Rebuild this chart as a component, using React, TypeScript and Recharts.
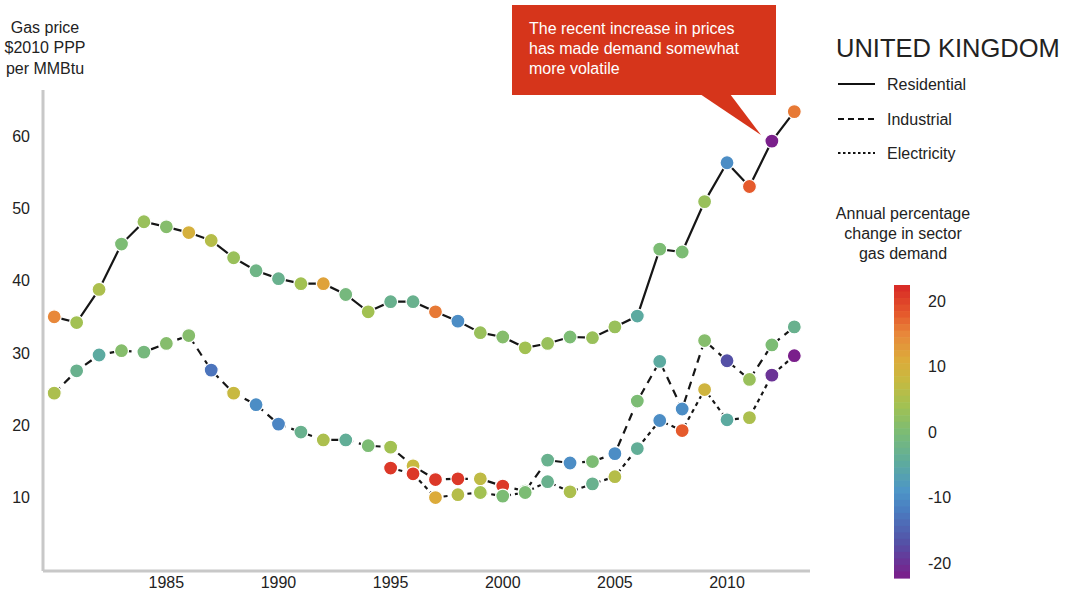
import React from 'react';
import { LineChart, Line, XAxis, YAxis } from 'recharts';

const years = [
  1980, 1981, 1982, 1983, 1984, 1985, 1986, 1987, 1988, 1989, 1990, 1991,
  1992, 1993, 1994, 1995, 1996, 1997, 1998, 1999, 2000, 2001, 2002, 2003,
  2004, 2005, 2006, 2007, 2008, 2009, 2010, 2011, 2012, 2013,
];

// gas price, $2010 PPP per MMBtu
const residential = [
  35.0, 34.2, 38.8, 45.1, 48.2, 47.5, 46.7, 45.6, 43.2, 41.4, 40.3, 39.6,
  39.6, 38.1, 35.7, 37.1, 37.1, 35.7, 34.4, 32.8, 32.2, 30.7, 31.3, 32.2,
  32.1, 33.6, 35.1, 44.4, 44.0, 51.0, 56.4, 53.1, 59.4, 63.5,
];
const industrial = [
  24.4, 27.5, 29.7, 30.3, 30.1, 31.3, 32.4, 27.6, 24.4, 22.8, 20.1, 19.0,
  17.9, 17.9, 17.1, 16.9, 14.3, 12.4, 12.5, 12.5, 11.5, 10.8, 15.1, 14.7,
  14.9, 16.0, 23.3, 28.8, 22.2, 31.7, 28.9, 26.3, 31.1, 33.6,
];
const electricity = [
  null, null, null, null, null, null, null, null, null, null, null, null,
  null, null, null, 14.0, 13.2, 9.9, 10.3, 10.6, 10.1, 10.6, 12.1, 10.7,
  11.8, 12.8, 16.7, 20.6, 19.2, 24.9, 20.7, 21.0, 26.9, 29.6,
];

// annual % change in sector gas demand (dot colour)
const residentialChange = [
  15, 4, 5, 0, 3, 1, 10, 6, 3, -2, -3, 4,
  12, -1, 4, -3, -3, 16, -10, 3, 1, 4, 3, 0,
  3, 3, -5, 0, 0, 3, -10, 18, -22, 16,
];
const industrialChange = [
  5, -3, -5, 1, -1, 1, 1, -13, 8, -10, -11, -3,
  5, -4, 0, 4, 8, 21, 21, 7, 21, 0, -3, -10,
  0, -10, 0, -5, -10, 1, -17, 3, 0, -3,
];
const electricityChange = [
  null, null, null, null, null, null, null, null, null, null, null, null,
  null, null, null, 21, 21, 11, 6, 4, 0, 0, -3, 5,
  -3, 6, -4, -10, 18, 9, -5, 5, -20, -22,
];

const yTicks = [10, 20, 30, 40, 50, 60];
const xTicks = [1985, 1990, 1995, 2000, 2005, 2010];
const scaleTicks = [20, 10, 0, -10, -20];

const colorStops: [number, string][] = [
  [-22, '#7a1f8b'],
  [-17, '#5450a6'],
  [-12, '#4a7dc1'],
  [-9, '#4d95c7'],
  [-5, '#5caaa0'],
  [0, '#7cbc74'],
  [4, '#a2c152'],
  [8, '#c8b940'],
  [11, '#dcab3a'],
  [15, '#e8883a'],
  [18, '#e55a2c'],
  [22, '#d92d27'],
];

function hex(c: string) {
  return [1, 3, 5].map((i) => parseInt(c.slice(i, i + 2), 16));
}

function demandColor(v: number) {
  if (v <= colorStops[0][0]) return colorStops[0][1];
  const last = colorStops[colorStops.length - 1];
  if (v >= last[0]) return last[1];
  for (let i = 1; i < colorStops.length; i++) {
    const [v1, c1] = colorStops[i];
    const [v0, c0] = colorStops[i - 1];
    if (v <= v1) {
      const t = (v - v0) / (v1 - v0);
      const a = hex(c0);
      const b = hex(c1);
      const m = a.map((x, k) => Math.round(x + (b[k] - x) * t));
      return `rgb(${m[0]},${m[1]},${m[2]})`;
    }
  }
  return last[1];
}

const data = years.map((year, i) => ({
  year,
  residential: residential[i],
  industrial: industrial[i],
  electricity: electricity[i],
  residentialChange: residentialChange[i],
  industrialChange: industrialChange[i],
  electricityChange: electricityChange[i],
}));

const makeDot = (changeKey: string) => (props: any) => {
  const { cx, cy, payload, index } = props;
  const k = `${changeKey}-${index}`;
  if (cy == null || payload[changeKey] == null) return <g key={k} />;
  return (
    <circle
      key={k}
      cx={cx}
      cy={cy}
      r={7}
      fill={demandColor(payload[changeKey])}
      stroke="#fff"
      strokeWidth={1.2}
    />
  );
};

const ink = '#222';
const font = '"Liberation Sans", Arial, sans-serif';

// colour bar geometry
const barTop = 285;
const barBottom = 578;
const barMax = 22.5;
const barMin = -22.3;
const barY = (v: number) =>
  barTop + ((barMax - v) / (barMax - barMin)) * (barBottom - barTop);

function ColourBar() {
  const bands = [];
  const n = 45;
  for (let i = 0; i < n; i++) {
    const v0 = barMax - ((barMax - barMin) * i) / n;
    const v1 = barMax - ((barMax - barMin) * (i + 1)) / n;
    bands.push(
      <rect
        key={i}
        x={894}
        y={barY(v0)}
        width={16}
        height={barY(v1) - barY(v0) + 0.6}
        fill={demandColor((v0 + v1) / 2)}
      />
    );
  }
  return (
    <g>
      {bands}
      {scaleTicks.map((t) => (
        <text key={t} x={928} y={barY(t)} dy="0.35em" fontSize={16} fill={ink}>
          {t}
        </text>
      ))}
    </g>
  );
}

function Overlay() {
  return (
    <svg
      width={1072}
      height={598}
      style={{ position: 'absolute', left: 0, top: 0, fontFamily: font }}
    >
      <g fill={ink} fontSize={16} textAnchor="middle">
        <text x={45} y={27} dy="0.35em">Gas price</text>
        <text x={45} y={47} dy="0.35em">$2010 PPP</text>
        <text x={45} y={68} dy="0.35em">per MMBtu</text>
      </g>

      <rect x={512} y={5} width={264} height={90} fill="#d6351b" />
      <polygon points="700,94 730,94 761,135" fill="#d6351b" />
      <g fill="#fff" fontSize={16}>
        <text x={529} y={28} dy="0.35em">The recent increase in prices</text>
        <text x={529} y={48} dy="0.35em">has made demand somewhat</text>
        <text x={529} y={68} dy="0.35em">more volatile</text>
      </g>

      <text x={836} y={48} dy="0.35em" fontSize={25.5} fill={ink}>
        UNITED KINGDOM
      </text>
      <g stroke="#111" strokeWidth={2}>
        <line x1={838} x2={875} y1={84} y2={84} />
        <line x1={838} x2={875} y1={119} y2={119} strokeDasharray="6 4" />
        <line x1={838} x2={875} y1={153} y2={153} strokeDasharray="2.5 2.5" />
      </g>
      <g fill={ink} fontSize={16}>
        <text x={887} y={84} dy="0.35em">Residential</text>
        <text x={887} y={119} dy="0.35em">Industrial</text>
        <text x={887} y={153} dy="0.35em">Electricity</text>
      </g>

      <g fill={ink} fontSize={16} textAnchor="middle">
        <text x={903} y={213} dy="0.35em">Annual percentage</text>
        <text x={903} y={233} dy="0.35em">change in sector</text>
        <text x={903} y={253} dy="0.35em">gas demand</text>
      </g>
      <ColourBar />
    </svg>
  );
}

export default function App() {
  return (
    <div
      style={{
        position: 'absolute',
        left: 0,
        top: 0,
        width: 1072,
        height: 598,
        background: '#fff',
        fontFamily: font,
      }}
    >
      <LineChart
        width={830}
        height={598}
        data={data}
        margin={{ top: 90, right: 20, left: 0, bottom: 0 }}
      >
        <XAxis
          dataKey="year"
          type="number"
          domain={[1979.5, 2013.7]}
          ticks={xTicks}
          height={27}
          stroke="#c8c8c8"
          axisLine={{ stroke: '#c8c8c8', strokeWidth: 3 }}
          tickLine={false}
          tickSize={0}
          tickMargin={6}
          tick={{ fontSize: 16, fill: ink }}
          allowDataOverflow
        />
        <YAxis
          type="number"
          domain={[-0.3, 66.5]}
          ticks={yTicks}
          width={43}
          axisLine={{ stroke: '#c8c8c8', strokeWidth: 3 }}
          tickLine={false}
          tickSize={0}
          tickMargin={13}
          tick={{ fontSize: 16, fill: ink }}
          allowDataOverflow
        />
        <Line
          dataKey="residential"
          stroke="#161616"
          strokeWidth={2.2}
          dot={makeDot('residentialChange')}
          activeDot={false}
          isAnimationActive={false}
        />
        <Line
          dataKey="industrial"
          stroke="#161616"
          strokeWidth={2.2}
          strokeDasharray="8 6"
          dot={makeDot('industrialChange')}
          activeDot={false}
          isAnimationActive={false}
        />
        <Line
          dataKey="electricity"
          stroke="#161616"
          strokeWidth={2.2}
          strokeDasharray="4 4"
          dot={makeDot('electricityChange')}
          activeDot={false}
          isAnimationActive={false}
        />
      </LineChart>
      <Overlay />
    </div>
  );
}
